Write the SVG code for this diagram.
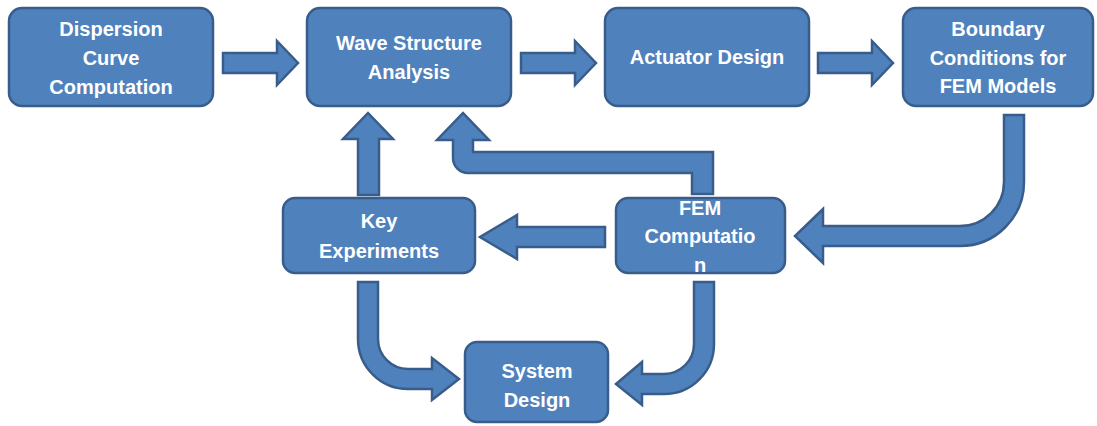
<svg xmlns="http://www.w3.org/2000/svg" width="1097" height="426" viewBox="0 0 1097 426">
<style>
.box{fill:#4F81BD;stroke:#385D8A;stroke-width:2.5}
.arr{fill:#4F81BD;stroke:#385D8A;stroke-width:2.5;stroke-linejoin:miter}
text{font-family:"Liberation Sans",Arial,sans-serif;font-weight:bold;font-size:20px;fill:#FFFFFF;text-anchor:middle}
</style>
<rect width="1097" height="426" fill="#FFFFFF"/>
<g id="connectors">
<path class="arr" d="M223,53 H277 V41 L298,63 L277,85 V73 H223 Z"/>
<path class="arr" d="M521,53 H575 V41 L596,63 L575,85 V73 H521 Z"/>
<path class="arr" d="M818,53 H872 V41 L893,63 L872,85 V73 H818 Z"/>
<path class="arr" d="M1004,115 H1024 V182 A64,64 0 0 1 960,246 H823 V263 L795,236 L823,209 V226 H960 A44,44 0 0 0 1004,182 Z"/>
<path class="arr" d="M605,227 V247 H517 V259 L480,237 L517,215 V227 Z"/>
<path class="arr" d="M358,195 V139 H343 L368,113 L393,139 H379 V195 Z"/>
<path class="arr" d="M692,194 V173 H468 A15,15 0 0 1 453,158 V140 H437 L463,113 L489,140 H473 V152 H713 V194 Z"/>
<path class="arr" d="M358,282 H378 V339 A30,30 0 0 0 408,369 H432 V358 L459,379 L432,400 V389 H408 A50,50 0 0 1 358,339 Z"/>
<path class="arr" d="M694,282 H714 V344 A50,50 0 0 1 664,394 H642 V405 L616,384 L642,362 V374 H664 A30,30 0 0 0 694,344 Z"/>
</g>
<g id="node-dispersion">
<rect class="box" x="9" y="8" width="204" height="98" rx="13"/>
<text x="111" y="36">Dispersion</text>
<text x="111" y="65">Curve</text>
<text x="111" y="94">Computation</text>
</g>
<g id="node-wave">
<rect class="box" x="307" y="8" width="204" height="98" rx="13"/>
<text x="409" y="50">Wave Structure</text>
<text x="409" y="79">Analysis</text>
</g>
<g id="node-actuator">
<rect class="box" x="605" y="8" width="204" height="98" rx="13"/>
<text x="707" y="64">Actuator Design</text>
</g>
<g id="node-boundary">
<rect class="box" x="903" y="8" width="190" height="98" rx="13"/>
<text x="998" y="36">Boundary</text>
<text x="998" y="65">Conditions for</text>
<text x="998" y="93">FEM Models</text>
</g>
<g id="node-key">
<rect class="box" x="283" y="198" width="192" height="75" rx="12"/>
<text x="379" y="228">Key</text>
<text x="379" y="258">Experiments</text>
</g>
<g id="node-fem">
<rect class="box" x="616" y="198" width="169" height="75" rx="12"/>
<text x="700" y="215">FEM</text>
<text x="700" y="243">Computatio</text>
<text x="700" y="272">n</text>
</g>
<g id="node-system">
<rect class="box" x="465" y="342" width="143" height="80" rx="12"/>
<text x="537" y="378">System</text>
<text x="537" y="407">Design</text>
</g>
</svg>
